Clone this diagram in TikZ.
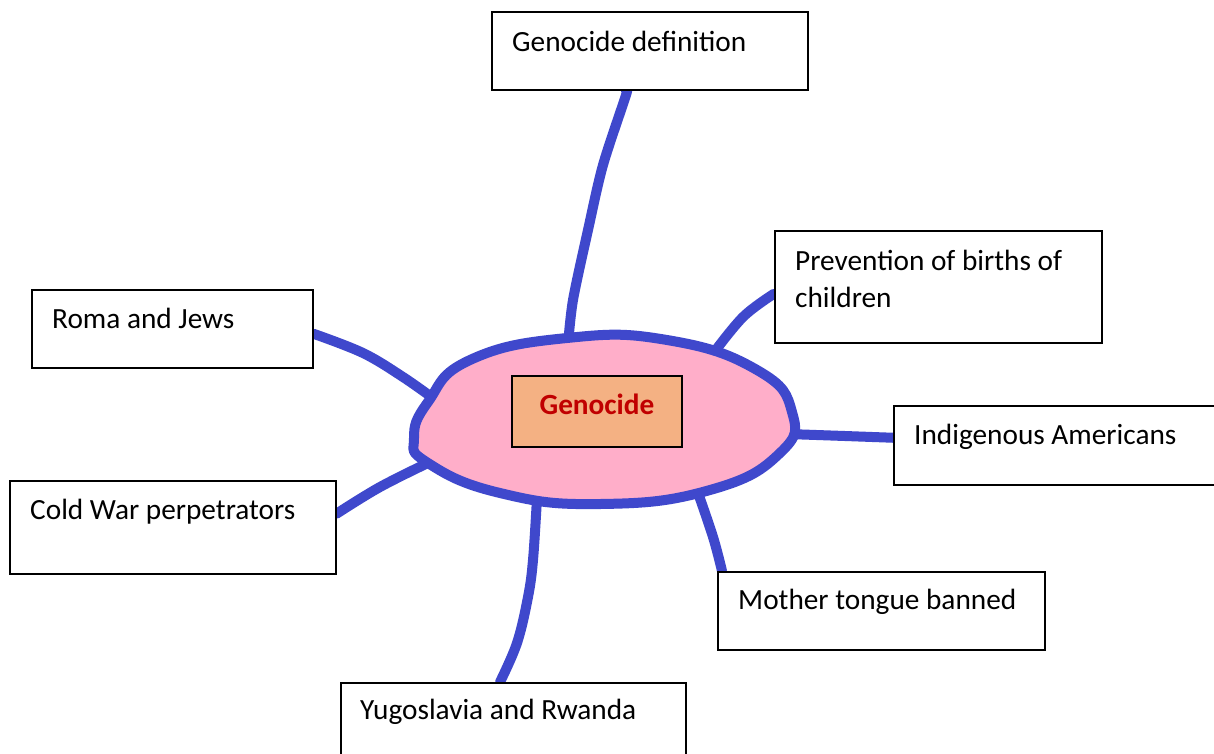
\documentclass[tikz,border=0pt]{standalone}
\usepackage{fontspec}
\setmainfont{Carlito}
\definecolor{mapblue}{HTML}{3F48CC}
\definecolor{blobpink}{HTML}{FFAEC9}
\definecolor{coreorange}{HTML}{F4B183}
\definecolor{corered}{HTML}{C00000}
\pgfdeclarelayer{bg}
\pgfsetlayers{bg,main}
\begin{document}
\begin{tikzpicture}[x=1pt,y=-1pt,
  topicbox/.style={draw=black, line width=1.5pt, fill=white, rectangle, anchor=north west, inner sep=0pt},
  topictext/.style={anchor=base west, inner sep=0pt, font=\fontsize{29.3}{35}\selectfont},
  branch/.style={draw=mapblue, line width=10pt, line cap=round, line join=round}]
\useasboundingbox (0,0) rectangle (1214,753);
\clip (0,0) rectangle (1214,753);
\begin{pgfonlayer}{bg}
\fill[white] (0,0) rectangle (1214,753);
\end{pgfonlayer}
% topic boxes
\node[topicbox, minimum width=316pt, minimum height=78pt] (def) at (491,11) {};
\node[topicbox, minimum width=327pt, minimum height=112pt] (prev) at (774,230) {};
\node[topicbox, minimum width=281pt, minimum height=78pt] (roma) at (31,289) {};
\node[topicbox, minimum width=340pt, minimum height=79pt] (indig) at (893,405) {};
\node[topicbox, minimum width=326pt, minimum height=93pt] (cold) at (9,480) {};
\node[topicbox, minimum width=327pt, minimum height=78pt] (mother) at (717,571) {};
\node[topicbox, minimum width=345pt, minimum height=90pt] (yugo) at (340,682) {};
% texts
\node[topictext] (tdef) at (512,51) {Genocide definition};
\node[topictext] (tprev1) at (795,270) {Prevention of births of};
\node[topictext] (tprev2) at (795,307) {children};
\node[topictext] (troma) at (52,328) {Roma and Jews};
\node[topictext] (tindig) at (914,444) {Indigenous Americans};
\node[topictext] (tcold) at (30,519) {Cold War perpetrators};
\node[topictext] (tmother) at (738,609) {Mother tongue banned};
\node[topictext] (tyugo) at (360,719) {Yugoslavia and Rwanda};
% attachment points on the blob
\coordinate (eTop) at (568,345);
\coordinate (eRoma) at (437,401);
\coordinate (eCold) at (432,461);
\coordinate (ePrev) at (712,355);
\coordinate (eIndig) at (788,434);
\coordinate (eMother) at (697,490);
\coordinate (eYugo) at (537,498);
\begin{pgfonlayer}{bg}
\draw[branch] plot[smooth, tension=0.5] coordinates {(eTop) (573,300) (588,230) (603,165) (626,95) ([xshift=135pt]def.south west)};
\draw[branch] plot[smooth, tension=0.6] coordinates {([yshift=-5pt]roma.east) (363,353) (403,377) (eRoma)};
\draw[branch] plot[smooth, tension=0.6] coordinates {([yshift=13.5pt]cold.east) (380,487) (eCold)};
\draw[branch] plot[smooth, tension=0.6] coordinates {([yshift=-7pt]prev.west) (743,317) (ePrev)};
\draw[branch] plot[smooth, tension=0.6] coordinates {(eIndig) (845,436) ([yshift=7.5pt]indig.west)};
\draw[branch] plot[smooth, tension=0.6] coordinates {(eMother) (713,537) ([xshift=5pt]mother.north west)};
\draw[branch] plot[smooth, tension=0.6] coordinates {(eYugo) (533,560) (528,597) (517,643) ([xshift=160pt]yugo.north west)};
% blob
\draw[draw=mapblue, fill=blobpink, line width=10pt, line join=round]
  plot[smooth cycle, tension=0.8] coordinates {(414,438) (428,402) (470,360) (567,338) (667,340) (757,370) (792,412) (780,453) (710,490) (600,504) (500,493) (428,463)};
\end{pgfonlayer}
% core
\node[draw=black, line width=1.5pt, fill=coreorange, minimum width=170pt, minimum height=71pt, inner sep=0pt] (core) at (597,411.5) {};
\node[anchor=base, inner sep=0pt, text=corered, font=\fontsize{29.3}{35}\selectfont\bfseries] (tcore) at (597,414) {Genocide};
\end{tikzpicture}
\end{document}
